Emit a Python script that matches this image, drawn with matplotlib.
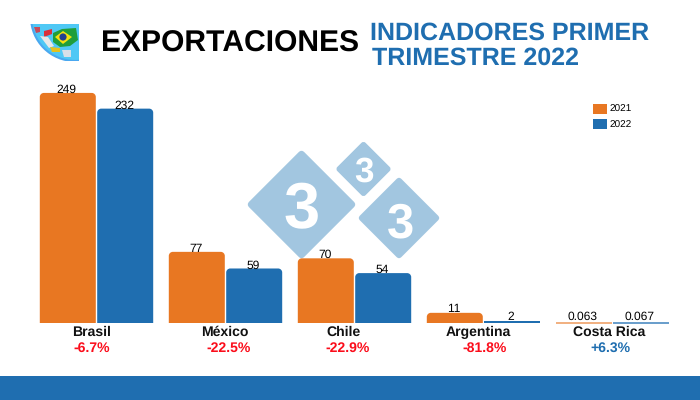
import numpy as np
import matplotlib
matplotlib.use("Agg")
import matplotlib.pyplot as plt
from matplotlib.patches import FancyBboxPatch, Rectangle, Circle, Polygon
from matplotlib.path import Path
from matplotlib.transforms import Affine2D

plt.rcParams['font.family'] = ['Liberation Sans', 'DejaVu Sans']
plt.rcParams['text.hinting'] = 'no_hinting'
plt.rcParams['text.hinting_factor'] = 1

countries = ["Brasil", "México", "Chile", "Argentina", "Costa Rica"]
values_2021 = [249, 77, 70, 11, 0.063]
values_2022 = [232, 59, 54, 2, 0.067]
labels_2021 = ["249", "77", "70", "11", "0.063"]
labels_2022 = ["232", "59", "54", "2", "0.067"]
changes = ["-6.7%", "-22.5%", "-22.9%", "-81.8%", "+6.3%"]
change_colors = ["#fb0d1b", "#fb0d1b", "#fb0d1b", "#fb0d1b", "#1f6eb0"]
name_shift = [-4.5, -1, -11, -5.5, -3.5]
change_shift = [-5, 3.5, -7, 1.5, -2]

ORANGE = "#e87722"
BLUE = "#1f6eb0"
MARK = "#a2c6e0"

fig = plt.figure(figsize=(7, 4), dpi=100, facecolor="white")

# Page layer in pixel units: band, logo, watermark, headings
page = fig.add_axes([0, 0, 1, 1], zorder=0)
page.set_xlim(0, 700)
page.set_ylim(400, 0)
page.axis("off")
page.add_patch(Rectangle((0, 376), 700, 24, fc=BLUE, ec="none"))

for cx, cy, half, r, fs, tx, base in [(301.5, 204.5, 53.5, 4, 47, 302, 228),
                                      (363.5, 169, 27, 3, 25, 364, 182),
                                      (399, 218, 40, 3.5, 35, 400, 237)]:
    a = (half - r) / np.sqrt(2)
    tr = Affine2D().rotate_deg(45).translate(cx, cy) + page.transData
    page.add_patch(FancyBboxPatch((-a, -a), 2 * a, 2 * a, boxstyle=f"round,pad={r},rounding_size={r}",
                                  fc=MARK, ec="none", transform=tr))
    page.text(tx, base, "3", color="white", fontsize=fs, fontweight="bold", ha="center", va="baseline")

clip = Rectangle((30, 24), 49, 37, transform=page.transData)
globe = Circle((75, 17), 44, fc="#4fc8f5", ec="#4aa8f0", lw=1.5)
page.add_patch(globe)
globe.set_clip_path(clip)
page.add_patch(Polygon([(53, 33), (62, 29), (76, 28), (78, 40), (70, 46), (60, 47), (53, 42)], fc="#1f9e3a", ec="none"))
page.add_patch(Polygon([(55, 37), (63, 31), (72, 37), (63, 44)], fc="#f4e10f", ec="none"))
page.add_patch(Circle((63, 37), 3.6, fc="#23408f", ec="none"))
page.add_patch(Polygon([(44, 31), (52, 29), (52, 34), (44, 37)], fc="#d9303a", ec="none"))
page.add_patch(Polygon([(40, 36), (48, 37), (54, 46), (49, 48)], fc="#e8e8e8", ec="none"))
page.add_patch(Polygon([(50, 47), (60, 48), (60, 52), (52, 52)], fc="#e4c11d", ec="none"))
page.add_patch(Polygon([(62, 50), (71, 50), (71, 57), (64, 57)], fc="#d7dfe8", ec="none"))
page.add_patch(Polygon([(34, 27), (40, 27), (40, 32), (36, 33)], fc="#c74a5a", ec="none"))

page.text(101, 52, "EXPORTACIONES", color="black", fontsize=21.5, fontweight="bold", ha="left", va="baseline")
page.text(370, 40, "INDICADORES PRIMER", color=BLUE, fontsize=18, fontweight="bold", ha="left", va="baseline")
page.text(372, 65, "TRIMESTRE 2022", color=BLUE, fontsize=18, fontweight="bold", ha="left", va="baseline")

# Chart layer
ax = fig.add_axes([32 / 700, (400 - 323) / 400, 645 / 700, 240 / 400], zorder=1)
ax.patch.set_alpha(0)
ax.set_xlim(-0.5, 4.5)
ax.set_ylim(0, 240 / 0.924)
ax.axis("off")

x = np.arange(len(countries))
width = 56 / 129
offset = 28.7 / 129
bars_a = ax.bar(x - offset, values_2021, width, color=ORANGE, linewidth=0, label="2021")
bars_b = ax.bar(x + offset, values_2022, width, color=BLUE, linewidth=0, label="2022")


def rounded_top(w_px, h_px, r=4.0):
    """Unit-square outline of a bar whose two top corners are rounded by r pixels."""
    rx, ry = r / w_px, r / h_px
    k = 0.45
    verts = [(0, 0), (1, 0), (1, 1 - ry), (1, 1 - ry * k), (1 - rx * k, 1), (1 - rx, 1),
             (rx, 1), (rx * k, 1), (0, 1 - ry * k), (0, 1 - ry), (0, 0)]
    codes = [Path.MOVETO, Path.LINETO, Path.LINETO, Path.CURVE4, Path.CURVE4, Path.CURVE4,
             Path.LINETO, Path.CURVE4, Path.CURVE4, Path.CURVE4, Path.CLOSEPOLY]
    return Path(verts, codes)


fig.canvas.draw()
for bars, col in [(bars_a, "#ee9a5c"), (bars_b, "#3f82bd")]:
    for bar in bars:
        box = bar.get_window_extent()
        if box.height > 8:
            outline = rounded_top(box.width, box.height)
            bar.get_path = lambda p=outline: p
        elif box.height < 1:
            # too thin to rasterise as an area: the reference shows a hairline
            ax.hlines(bar.get_height(), bar.get_x(), bar.get_x() + bar.get_width(),
                      colors=col, linewidth=1.1, clip_on=False)

px = 72 / 100
for bars, labels in [(bars_a, labels_2021), (bars_b, labels_2022)]:
    for bar, lab in zip(bars, labels):
        h = bar.get_height()
        lift = 3 if h < 1 else (1 if h < 20 else 0)
        ax.annotate(lab, (bar.get_x() + bar.get_width() / 2, h), xytext=(-1.2 * px, lift * px),
                    textcoords="offset points", ha="center", va="baseline", fontsize=8.6,
                    color="black", annotation_clip=False)

for i, name in enumerate(countries):
    ax.annotate(name, (x[i], 0), xytext=(name_shift[i] * px, -13 * px), textcoords="offset points",
                ha="center", va="baseline", fontsize=10, fontweight="bold", color="#111111",
                annotation_clip=False)
    ax.annotate(changes[i], (x[i], 0), xytext=(change_shift[i] * px, -29 * px), textcoords="offset points",
                ha="center", va="baseline", fontsize=10, fontweight="bold", color=change_colors[i],
                annotation_clip=False)

ax.legend(handles=[bars_a, bars_b], loc="upper left", bbox_to_anchor=(593 / 700, (400 - 104) / 400),
          bbox_transform=fig.transFigure, frameon=False, fontsize=7.2, handlelength=1.4,
          handleheight=1.1, handletextpad=0.25, labelspacing=0.52, borderpad=0, borderaxespad=0)

fig.savefig("out.png", dpi=100)
